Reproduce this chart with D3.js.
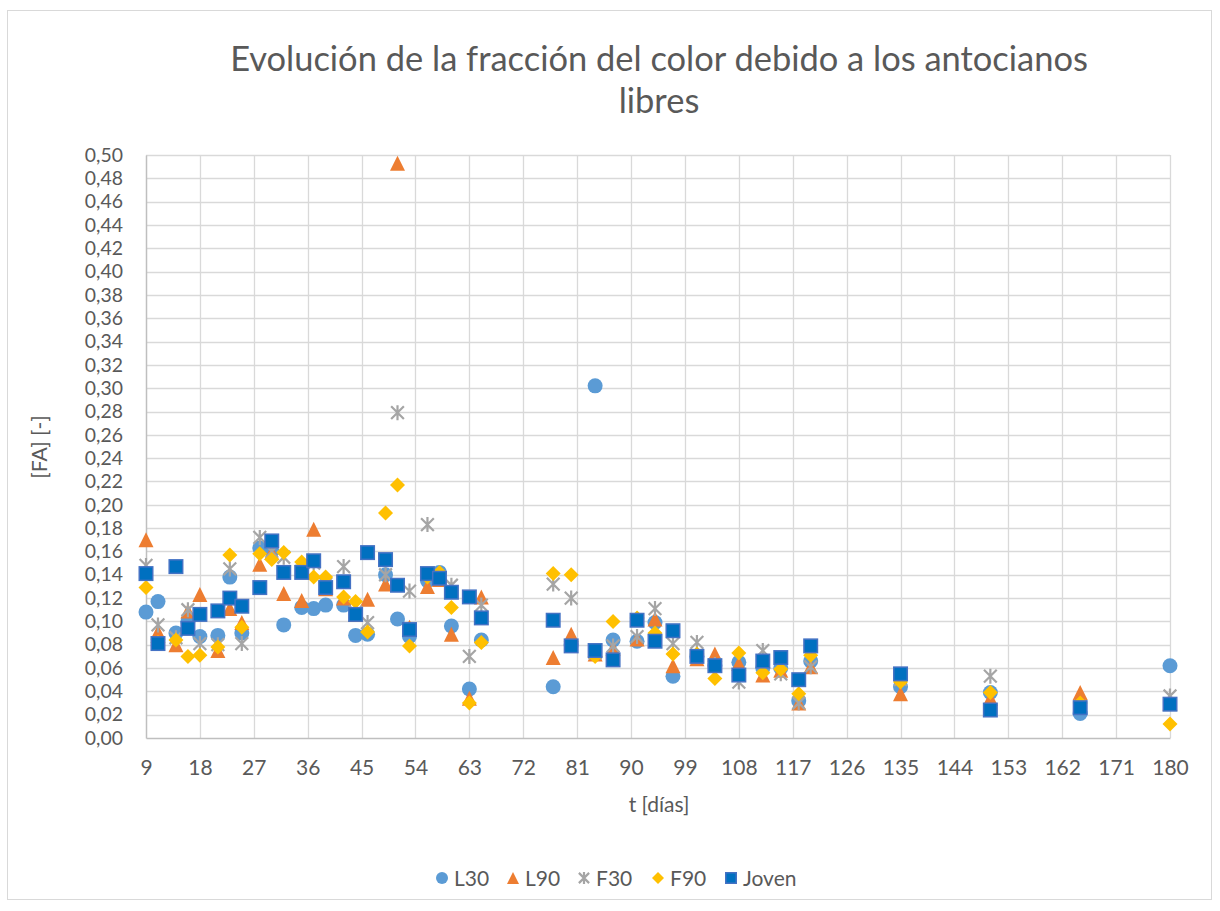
<!DOCTYPE html>
<html>
<head>
<meta charset="utf-8">
<script src="https://cdn.jsdelivr.net/npm/d3@7"></script>
<style>
  html, body { margin: 0; padding: 0; background: #fff; }
  svg { display: block; }
  text { font-family: Lato, "Open Sans", sans-serif; fill: #595959; }
</style>
</head>
<body>
<svg id="chart" width="1220" height="911"></svg>
<script>
// Sampling days (t) shared by every series
const days = [9, 11, 14, 16, 18, 21, 23, 25, 28, 30, 32, 35, 37, 39, 42, 44, 46, 49, 51, 53, 56, 58, 60, 63, 65,
              77, 80, 84, 87, 91, 94, 97, 101, 104, 108, 112, 115, 118, 120, 135, 150, 165, 180];

// Fraction of colour due to free anthocyanins, per wine
const L30 = [0.108, 0.117, 0.090, 0.100, 0.087, 0.088, 0.138, 0.090, 0.163, 0.160, 0.097, 0.112, 0.111, 0.114, 0.114,
             0.088, 0.089, 0.140, 0.102, 0.087, 0.135, 0.142, 0.096, 0.042, 0.084,
             0.044, 0.080, 0.302, 0.084, 0.083, 0.099, 0.053, 0.070, 0.062, 0.065, 0.060, 0.060, 0.032, 0.066,
             0.044, 0.039, 0.021, 0.062];
const L90 = [0.170, 0.091, 0.080, 0.109, 0.123, 0.075, 0.111, 0.099, 0.149, 0.159, 0.124, 0.118, 0.179, 0.128, 0.120,
             0.106, 0.119, 0.132, 0.493, 0.095, 0.130, 0.136, 0.089, 0.034, 0.121,
             0.069, 0.089, 0.072, 0.077, 0.085, 0.102, 0.062, 0.068, 0.072, 0.064, 0.054, 0.058, 0.030, 0.061,
             0.038, 0.034, 0.039, 0.030];
const F30 = [0.148, 0.097, 0.086, 0.110, 0.081, 0.080, 0.145, 0.081, 0.172, 0.160, 0.155, 0.143, 0.150, 0.132, 0.147,
             0.108, 0.099, 0.140, 0.279, 0.126, 0.183, 0.138, 0.131, 0.070, 0.114,
             0.132, 0.120, 0.073, 0.079, 0.087, 0.111, 0.081, 0.082, 0.063, 0.048, 0.075, 0.055, 0.030, 0.061,
             0.050, 0.053, 0.027, 0.036];
const F90 = [0.129, 0.082, 0.084, 0.070, 0.071, 0.078, 0.157, 0.095, 0.158, 0.153, 0.159, 0.151, 0.138, 0.138, 0.121,
             0.117, 0.091, 0.193, 0.217, 0.079, 0.138, 0.142, 0.112, 0.030, 0.082,
             0.141, 0.140, 0.070, 0.100, 0.103, 0.090, 0.072, 0.072, 0.051, 0.073, 0.056, 0.059, 0.038, 0.071,
             0.048, 0.039, 0.030, 0.012];
const Joven = [0.141, 0.081, 0.147, 0.094, 0.106, 0.109, 0.120, 0.113, 0.129, 0.169, 0.142, 0.142, 0.152, 0.129, 0.134,
               0.106, 0.159, 0.153, 0.131, 0.093, 0.141, 0.137, 0.125, 0.121, 0.103,
               0.101, 0.079, 0.075, 0.067, 0.101, 0.083, 0.092, 0.070, 0.062, 0.054, 0.066, 0.069, 0.050, 0.079,
               0.055, 0.024, 0.026, 0.029];

const seriesNames = ["L30", "L90", "F30", "F90", "Joven"];
const seriesValues = [L30, L90, F30, F90, Joven];

// Axis ticks
const xTicks = d3.range(9, 181, 9);
const yTicks = d3.range(0, 0.5001, 0.02);

const titleLines = ["Evolución de la fracción del color debido a los antocianos", "libres"];
const xTitle = "t [días]";
const yTitle = "[FA] [-]";

// Marker styling per series
const styles = {
  L30:   { shape: "circle",   fill: "#5B9BD5", stroke: "#5B9BD5" },
  L90:   { shape: "triangle", fill: "#ED7D31", stroke: "#ED7D31" },
  F30:   { shape: "star",     fill: "none",    stroke: "#A5A5A5" },
  F90:   { shape: "diamond",  fill: "#FFC000", stroke: "#FFC000" },
  Joven: { shape: "square",   fill: "#0070C0", stroke: "#4472C4" }
};

const svg = d3.select("#chart");
const plot = { left: 146, right: 1170, top: 155, bottom: 738 };

const x = d3.scaleLinear().domain([9, 180]).range([plot.left, plot.right]);
const y = d3.scaleLinear().domain([0, 0.5]).range([plot.bottom, plot.top]);

// Chart frame
svg.append("rect").attr("x", 7.5).attr("y", 10.5).attr("width", 1204).attr("height", 889)
  .attr("fill", "#fff").attr("stroke", "#d9d9d9").attr("stroke-width", 1);

// Title, sized so the first line spans the intended width
const title = svg.append("g").selectAll("text").data(titleLines).join("text")
  .attr("x", 659).attr("y", (d, i) => 71 + i * 42)
  .attr("text-anchor", "middle")
  .style("font-size", "30px")
  .text(d => d);
const firstLen = title.node().getComputedTextLength();
const titleSize = Math.min(36, 30 * 858 / firstLen);
title.style("font-size", titleSize + "px");

// Gridlines
const grid = svg.append("g");
grid.selectAll("line.h").data(yTicks.slice(1)).join("line")
  .attr("x1", plot.left).attr("x2", plot.right)
  .attr("y1", d => Math.round(y(d)) + 0.5).attr("y2", d => Math.round(y(d)) + 0.5)
  .attr("stroke", "#d9d9d9").attr("stroke-width", 1.3);
grid.selectAll("line.v").data(xTicks.slice(1)).join("line")
  .attr("y1", plot.top).attr("y2", plot.bottom)
  .attr("x1", d => Math.round(x(d)) + 0.5).attr("x2", d => Math.round(x(d)) + 0.5)
  .attr("stroke", "#d9d9d9").attr("stroke-width", 1.3);

// Axes
const fmt = d => d3.format(".2f")(d).replace(".", ",");
const xAxis = svg.append("g").attr("transform", `translate(0,${plot.bottom})`)
  .call(d3.axisBottom(x).tickValues(xTicks).tickSize(0).tickPadding(22).tickFormat(d3.format("d")));
const yAxis = svg.append("g").attr("transform", `translate(${plot.left},0)`)
  .call(d3.axisLeft(y).tickValues(yTicks).tickSize(0).tickPadding(23).tickFormat(fmt));
[xAxis, yAxis].forEach(a => {
  a.select(".domain").attr("stroke", "#bfbfbf").attr("stroke-width", 1.5);
  a.selectAll("text").style("font-family", "Lato, sans-serif").attr("fill", "#595959");
});
xAxis.selectAll("text").style("font-size", "21px");
yAxis.selectAll("text").style("font-size", "19.4px");

// Axis titles
svg.append("text").attr("x", 659).attr("y", 812).attr("text-anchor", "middle")
  .style("font-size", "21px").text(xTitle);
svg.append("text").attr("transform", "translate(47,447) rotate(-90)").attr("text-anchor", "middle")
  .style("font-size", "21px").text(yTitle);

// Marker drawing
function drawMarker(sel, style, size) {
  const r = size / 2;
  if (style.shape === "circle") {
    sel.append("circle").attr("r", r).attr("fill", style.fill);
  } else if (style.shape === "square") {
    sel.append("rect").attr("x", -r + 0.75).attr("y", -r + 0.75).attr("width", size - 1.5).attr("height", size - 1.5)
      .attr("fill", style.fill).attr("stroke", style.stroke).attr("stroke-width", 1.5);
  } else if (style.shape === "triangle") {
    sel.append("path").attr("d", `M0,${-r} L${r},${r} L${-r},${r} Z`).attr("fill", style.fill);
  } else if (style.shape === "diamond") {
    sel.append("path").attr("d", `M0,${-r} L${r},0 L0,${r} L${-r},0 Z`).attr("fill", style.fill);
  } else if (style.shape === "star") {
    const k = r * 0.85;
    sel.append("path").attr("d", `M${-k},${-k} L${k},${k} M${-k},${k} L${k},${-k} M0,${-r} L0,${r}`)
      .attr("fill", "none").attr("stroke", style.stroke).attr("stroke-width", 2.2);
  }
}

// Points, drawn series by series so later series sit on top
const pts = svg.append("g");
seriesNames.forEach((name, si) => {
  const vals = seriesValues[si];
  const data = days.map((d, i) => ({ t: d, v: vals[i] }));
  pts.append("g").selectAll("g").data(data).join("g")
    .attr("transform", d => `translate(${x(d.t)},${y(d.v)})`)
    .each(function () { drawMarker(d3.select(this), styles[name], 15); });
});

// Legend
const legendX = [442, 513, 584, 658, 731];
const legend = svg.append("g");
seriesNames.forEach((name, i) => {
  const g = legend.append("g").attr("transform", `translate(${legendX[i]},878)`);
  drawMarker(g, styles[name], 12);
  g.append("text").attr("x", 12).attr("y", 7.5).style("font-size", "21px").text(name);
});
</script>
</body>
</html>
